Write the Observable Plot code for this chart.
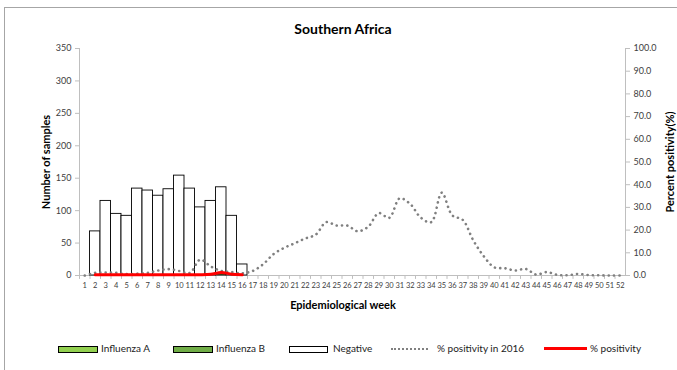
<!DOCTYPE html>
<html><head><meta charset="utf-8">
<script src="https://cdn.jsdelivr.net/npm/d3@7"></script>
<script src="https://cdn.jsdelivr.net/npm/@observablehq/plot@0.6"></script>
<style>
body{margin:0;background:#fff;font-family:Lato,"Open Sans",sans-serif;}
#wrap{position:relative;width:677px;height:370px;overflow:hidden;background:#fff;}
#border{position:absolute;left:4px;top:7px;width:720px;height:420px;border-left:1px solid #a6a6a6;border-top:1px solid #a6a6a6;}
#chart{position:absolute;left:0;top:0;}
.t{position:absolute;font-weight:bold;color:#000;white-space:nowrap;}
#title{top:20px;left:0;width:686px;text-align:center;font-size:14px;}
#xt{top:298px;left:0;width:686px;text-align:center;font-size:11px;}
.rot{transform:translate(-50%,-50%) rotate(-90deg);font-size:11px;}
#yl{left:45px;top:162px;}
#yr{left:669px;top:162px;}
.li{position:absolute;top:342px;font-size:10px;color:#222;white-space:nowrap;}
.sw{position:absolute;top:346px;height:5px;border:1px solid #000;}
</style></head>
<body>
<div id="wrap">
<div id="border"></div>
<div id="chart"></div>
<div class="t" id="title">Southern Africa</div>
<div class="t" id="xt">Epidemiological week</div>
<div class="t rot" id="yl">Number of samples</div>
<div class="t rot" id="yr">Percent positivity(%)</div>
<div id="legend"></div>
</div>
<script>
const weeks = d3.range(1, 53);
const seriesNames = ["Influenza A", "Influenza B", "Negative"];
const seriesColors = ["#92D050", "#70AD47", "#ffffff"];
const dataWeeks = d3.range(2, 17);
const fluA = [0,0,0,0,0,0,0,0,0,0,0,0,2,0,0];
const fluB = [0,0,0,0,0,0,0,0,0,0,0,0,0,0,0];
const negative = [68,115,95,92,134,131,123,133,154,134,105,115,134,92,17];
const pctCurrent = [0.3,0.3,0.3,0.3,0.3,0.3,0.3,0.3,0.3,0.3,0.3,0.5,1.3,0.6,0.3];
const pct2016 = [0,1.2,1.3,1.2,0.6,0.8,1.2,2.2,2.8,2.0,1.1,7.0,4.0,2.0,1.5,1.0,
  2.0,5.0,9.5,12.2,14.2,16.3,18.0,23.5,22.0,22.0,19.5,21.5,27.5,25.4,34.0,31.5,
  25.5,23.5,36.5,26.5,24.5,15.5,8.5,3.6,3.2,2.2,2.9,0.4,1.5,0.3,0.1,0.7,0.2,0.1,0,0];
const leftTicks = d3.range(0, 351, 50);
const rightTicks = d3.range(0, 101, 10);
const ratio = 350 / 100;

const bars = [];
dataWeeks.forEach((w, i) => {
  bars.push({week: w, type: "Influenza A", value: fluA[i]});
  bars.push({week: w, type: "Influenza B", value: fluB[i]});
  bars.push({week: w, type: "Negative", value: negative[i]});
});
const line2016 = weeks.map((w, i) => ({week: w, y: pct2016[i] * ratio}));
const lineCur = dataWeeks.map((w, i) => ({week: w, y: pctCurrent[i] * ratio}));

const W = 677, H = 320, ml = 79, mr = 52;
const bw = (W - ml - mr) / weeks.length;
const axisColor = "#bfbfbf";

const chart = Plot.plot({
  width: W, height: H,
  marginTop: 48, marginBottom: 45, marginLeft: ml, marginRight: mr,
  style: {fontFamily: "Lato, 'Open Sans', sans-serif", background: "transparent", color: "#404040"},
  x: {type: "band", domain: weeks, padding: 0, round: false, axis: null},
  y: {domain: [0, 350], axis: null},
  color: {domain: seriesNames, range: seriesColors},
  marks: [
    Plot.frame({anchor: "left", stroke: axisColor}),
    Plot.frame({anchor: "right", stroke: axisColor}),
    Plot.ruleY([0], {stroke: axisColor}),
    Plot.ruleX(weeks, {x: d => d, y1: 0, y2: -6, dx: -bw / 2, stroke: axisColor}),
    Plot.axisY({anchor: "left", label: null, ticks: leftTicks, tickSize: 4, tickPadding: 4, fontSize: 9, stroke: axisColor, color: "#404040"}),
    Plot.axisY({anchor: "right", label: null, ticks: rightTicks.map(d => d * ratio), tickFormat: d => (d / ratio).toFixed(1), tickSize: 4, tickPadding: 4, fontSize: 9, stroke: axisColor}),
    Plot.axisX({anchor: "bottom", label: null, tickSize: 0, tickPadding: 7, fontSize: 7.5}),
    Plot.barY(bars, {x: "week", y: "value", fill: "type", stroke: "#000", strokeWidth: 0.9, inset: 0}),
    Plot.line(line2016, {x: "week", y: "y", stroke: "#808080", strokeWidth: 2.6, strokeDasharray: "0.1 5.2", strokeLinecap: "round", curve: "catmull-rom"}),
    Plot.line(lineCur, {x: "week", y: "y", stroke: "#ff0000", strokeWidth: 3, curve: "catmull-rom"})
  ]
});
document.getElementById("chart").appendChild(chart);

// legend
const leg = document.getElementById("legend");
const items = [
  {label: "Influenza A", kind: "box", color: seriesColors[0], x0: 58, x1: 98, tx: 101},
  {label: "Influenza B", kind: "box", color: seriesColors[1], x0: 173, x1: 213, tx: 216},
  {label: "Negative", kind: "box", color: seriesColors[2], x0: 289, x1: 328, tx: 333},
  {label: "% positivity in 2016", kind: "dots", color: "#808080", x0: 391, x1: 428, tx: 437},
  {label: "% positivity", kind: "line", color: "#ff0000", x0: 544, x1: 587, tx: 590}
];
items.forEach(it => {
  const s = document.createElement("div");
  s.style.position = "absolute";
  s.style.left = it.x0 + "px";
  if (it.kind === "box") {
    s.className = "sw";
    s.style.width = (it.x1 - it.x0 - 2) + "px";
    s.style.background = it.color;
  } else if (it.kind === "dots") {
    s.style.top = "348px"; s.style.width = (it.x1 - it.x0) + "px"; s.style.height = "0";
    s.style.borderTop = "2.5px dotted " + it.color;
  } else {
    s.style.top = "347px"; s.style.width = (it.x1 - it.x0) + "px"; s.style.height = "3px";
    s.style.background = it.color;
  }
  leg.appendChild(s);
  const t = document.createElement("div");
  t.className = "li"; t.style.left = it.tx + "px"; t.textContent = it.label;
  leg.appendChild(t);
});
</script>
</body></html>
